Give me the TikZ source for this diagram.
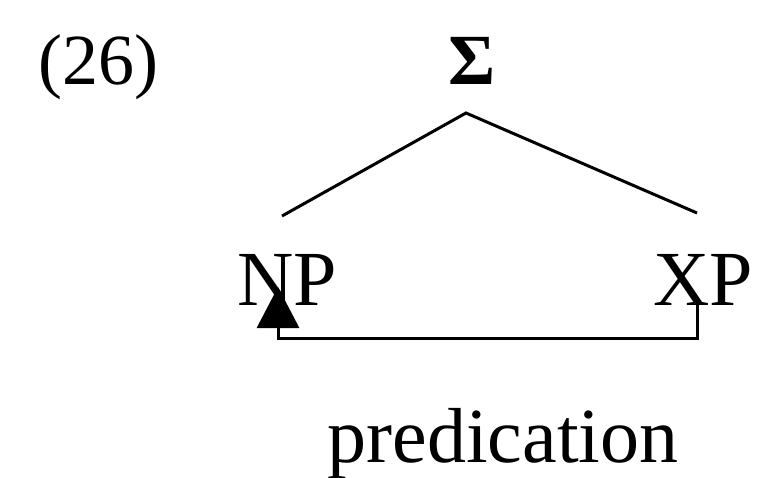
\documentclass[tikz,border=0pt]{standalone}
\usepackage{fontspec}
\setmainfont{Liberation Serif}
\usetikzlibrary{arrows.meta}
\begin{document}
\begin{tikzpicture}[x=1pt,y=-1pt,
  lbl/.style={inner sep=0pt,anchor=base,font=\fontsize{78}{80}\selectfont},
  num/.style={inner sep=0pt,anchor=base west,font=\fontsize{72}{74}\selectfont},
  branch/.style={line width=3pt},
  rel/.style={line width=3pt,-{Triangle[length=41pt,width=42pt]}}]
\useasboundingbox (0,0) rectangle (757,478);
\node[num] (ex) at (38,85) {(26)};
\node[inner sep=0pt,anchor=base,font=\fontsize{72}{74}\selectfont\bfseries] (S) at (472,85) {Σ};
\node[lbl] (NP) at (287,305) {NP};
\node[lbl] (XP) at (703,305) {XP};
\node[lbl] (pred) at (503,462) {predication};
\coordinate (top) at (466,113);
\coordinate (lend) at (282,216);
\coordinate (rend) at (697,213);
\coordinate (xpfoot) at (697,305);
\coordinate (npfoot) at (278,287);
\draw[branch] (lend) -- (top) -- (rend);
\draw[rel] (xpfoot) |- (278,338) -- (npfoot);
\end{tikzpicture}
\end{document}
